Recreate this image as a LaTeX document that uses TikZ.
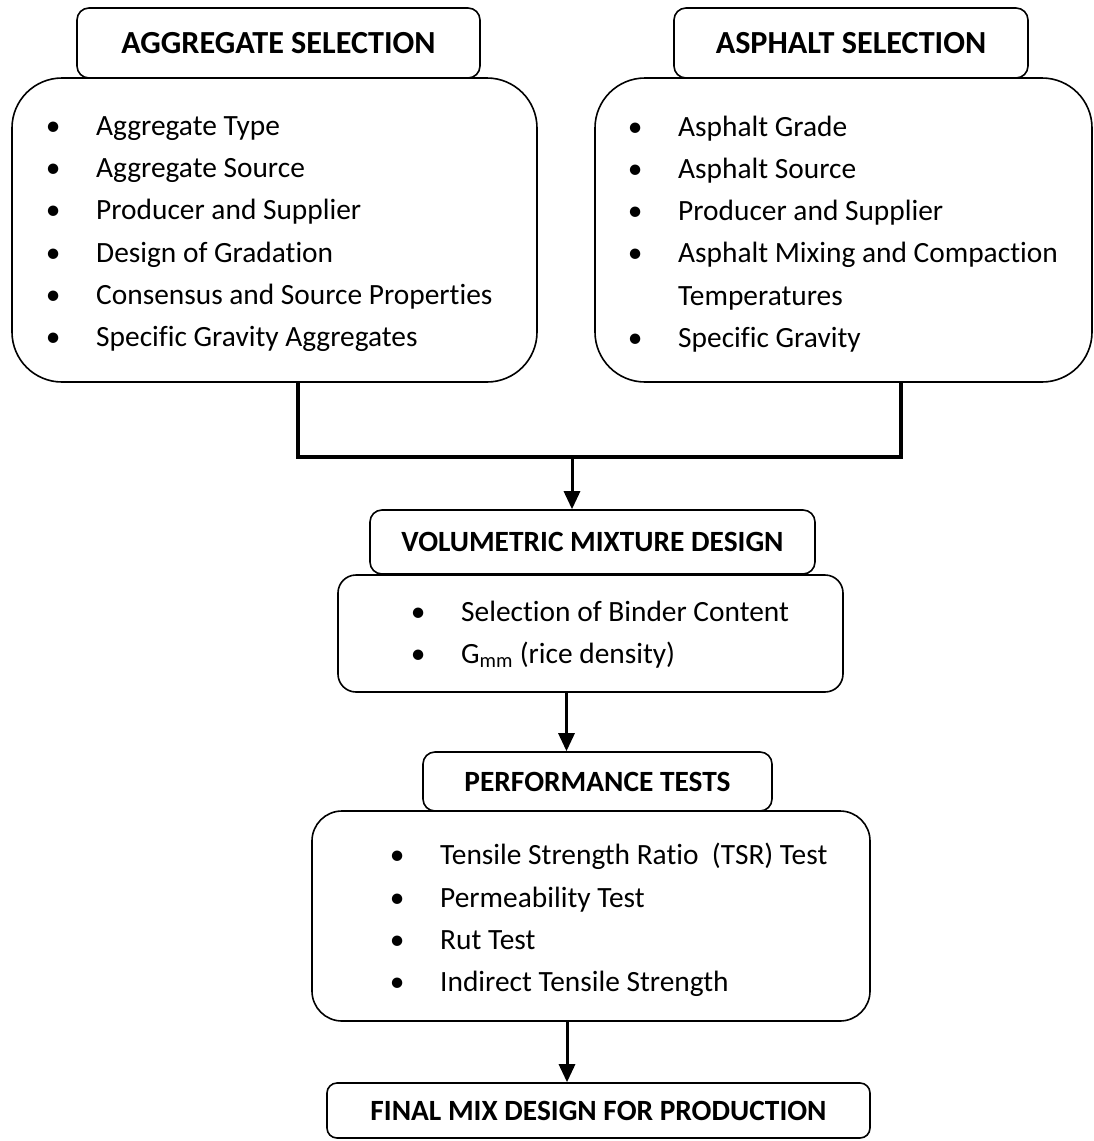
\documentclass[tikz,border=0pt]{standalone}
\usepackage{fontspec}
\setmainfont{Carlito}[Ligatures=NoCommon]
\usepackage{tikz}
\usetikzlibrary{arrows.meta}

\newcommand{\bul}{\makebox[0pt]{\textbullet}\hspace{43bp}}
\newcommand{\nobul}{\hspace*{43bp}}

\begin{document}
\begin{tikzpicture}[
  x=1bp, y=-1bp,
  head/.style={draw, line width=1.6bp, fill=white, rounded corners=12bp, inner sep=0pt, font=\fontsize{29.5}{36}\selectfont\bfseries},
  bighead/.style={head, font=\fontsize{32.3}{38}\selectfont\bfseries},
  list/.style={draw, line width=1.6bp, fill=white, inner sep=0pt},
  items/.style={align=left, inner sep=0pt, anchor=west, font=\fontsize{29.5}{42.4}\selectfont},
  link/.style={line width=3.2bp},
  arr/.style={line width=3bp, -{Triangle[length=18bp,width=16bp]}}
]
\useasboundingbox (0,0) rectangle (1094,1141);

\node[list, rounded corners=50bp, minimum width=525bp, minimum height=304bp] (agglist) at (274.5,230) {};
\node[bighead, minimum width=403bp, minimum height=70bp] (agghead) at (278.5,43) {AGGREGATE SELECTION};
\node[items] (aggitems) at (53,234) {\bul Aggregate Type\\ \bul Aggregate Source\\ \bul Producer and Supplier\\ \bul Design of Gradation\\ \bul Consensus and Source Properties\\ \bul Specific Gravity Aggregates};

\node[list, rounded corners=50bp, minimum width=497bp, minimum height=304bp] (asplist) at (843.5,230) {};
\node[bighead, minimum width=354bp, minimum height=70bp] (asphead) at (851,43) {ASPHALT SELECTION};
\node[items] (aspitems) at (635,234) {\bul Asphalt Grade\\ \bul Asphalt Source\\ \bul Producer and Supplier\\ \bul Asphalt Mixing and Compaction\\ \nobul Temperatures\\ \bul Specific Gravity};

\node[list, rounded corners=18bp, minimum width=505bp, minimum height=117bp] (vmdlist) at (590.5,633.5) {};
\node[head, minimum width=445bp, minimum height=64bp] (vmdhead) at (592.5,542) {VOLUMETRIC MIXTURE DESIGN};
\node[items] (vmditems) at (418,635) {\bul Selection of Binder Content\\ \bul G\textsubscript{mm} (rice density)};

\node[list, rounded corners=30bp, minimum width=558bp, minimum height=210bp] (ptlist) at (591,916) {};
\node[head, minimum width=349bp, minimum height=59bp] (pthead) at (597.5,781.5) {PERFORMANCE TESTS};
\node[items] (ptitems) at (397,920) {\bul Tensile Strength Ratio\ \ (TSR) Test\\ \bul Permeability Test\\ \bul Rut Test\\ \bul Indirect Tensile Strength};

\node[head, rounded corners=10bp, minimum width=543bp, minimum height=55bp] (final) at (598.5,1110.5) {FINAL MIX DESIGN FOR PRODUCTION};

\coordinate (join) at (572,457);
\draw[link] ([xshift=23.5bp]agglist.south) |- (join) -| ([xshift=57.5bp]asplist.south);
\draw[arr] (join) -- (join |- vmdhead.north);
\draw[arr] ([xshift=-24bp]vmdlist.south) -- ([xshift=-24bp]vmdlist.south |- pthead.north);
\draw[arr] ([xshift=-24bp]ptlist.south) -- ([xshift=-24bp]ptlist.south |- final.north);
\end{tikzpicture}
\end{document}
